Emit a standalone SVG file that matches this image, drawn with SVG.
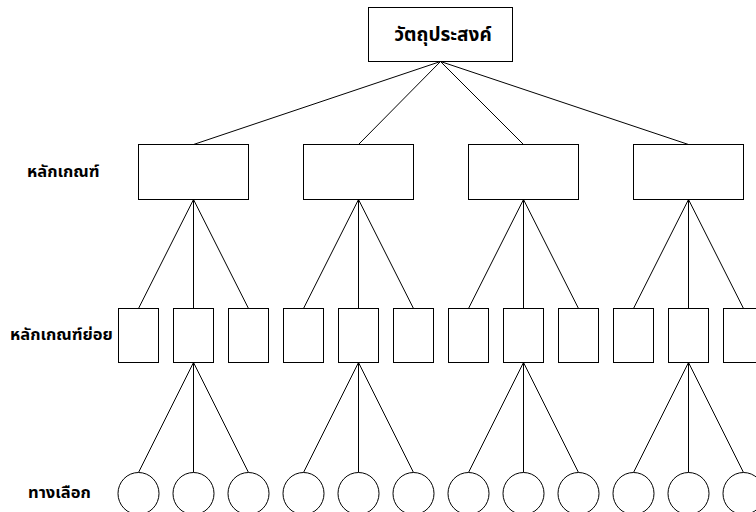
<svg xmlns="http://www.w3.org/2000/svg" width="756" height="512" viewBox="0 0 756 512">
<style>
.box{fill:#fff;stroke:#000;stroke-width:1}
.ln{stroke:#000;stroke-width:1;fill:none}
.t{font-family:"Noto Sans Thai","Leelawadee UI",Tahoma,"Noto Sans",sans-serif;fill:#000;font-weight:bold}
.lab{font-size:16.5px}
.title{font-size:19px}
</style>
<rect width="756" height="512" fill="#fff"/>
<g id="connectors">
<path class="ln" d="M440.5 61.5L193.5 144.5M440.5 61.5L358.5 144.5M440.5 61.5L523.5 144.5M440.5 61.5L688.5 144.5"/>
<path class="ln" d="M193.5 199.5L138.5 308.5M193.5 199.5L193.5 308.5M193.5 199.5L248.5 308.5"/>
<path class="ln" d="M358.5 199.5L303.5 308.5M358.5 199.5L358.5 308.5M358.5 199.5L413.5 308.5"/>
<path class="ln" d="M523.5 199.5L468.5 308.5M523.5 199.5L523.5 308.5M523.5 199.5L578.5 308.5"/>
<path class="ln" d="M688.5 199.5L633.5 308.5M688.5 199.5L688.5 308.5M688.5 199.5L743.5 308.5"/>
<path class="ln" d="M193.5 362.5L138.5 472.5M193.5 362.5L193.5 472.5M193.5 362.5L248.5 472.5"/>
<path class="ln" d="M358.5 362.5L303.5 472.5M358.5 362.5L358.5 472.5M358.5 362.5L413.5 472.5"/>
<path class="ln" d="M523.5 362.5L468.5 472.5M523.5 362.5L523.5 472.5M523.5 362.5L578.5 472.5"/>
<path class="ln" d="M688.5 362.5L633.5 472.5M688.5 362.5L688.5 472.5M688.5 362.5L743.5 472.5"/>
</g>
<g id="goal"><rect class="box" x="368.5" y="7.5" width="144" height="54"/><text class="t title" x="443" y="41" text-anchor="middle">วัตถุประสงค์</text></g>
<g id="label-criteria"><text class="t lab" x="27" y="177">หลักเกณฑ์</text></g>
<g id="label-subcriteria"><text class="t lab" x="10" y="340">หลักเกณฑ์ย่อย</text></g>
<g id="label-alternatives"><text class="t lab" x="28" y="498">ทางเลือก</text></g>
<g id="c1"><rect class="box" x="138.5" y="144.5" width="110" height="55"/></g>
<g id="c2"><rect class="box" x="303.5" y="144.5" width="110" height="55"/></g>
<g id="c3"><rect class="box" x="468.5" y="144.5" width="110" height="55"/></g>
<g id="c4"><rect class="box" x="633.5" y="144.5" width="110" height="55"/></g>
<g id="s1a"><rect class="box" x="118.5" y="308.5" width="40" height="54"/></g>
<g id="s1b"><rect class="box" x="173.5" y="308.5" width="40" height="54"/></g>
<g id="s1c"><rect class="box" x="228.5" y="308.5" width="40" height="54"/></g>
<g id="s2a"><rect class="box" x="283.5" y="308.5" width="40" height="54"/></g>
<g id="s2b"><rect class="box" x="338.5" y="308.5" width="40" height="54"/></g>
<g id="s2c"><rect class="box" x="393.5" y="308.5" width="40" height="54"/></g>
<g id="s3a"><rect class="box" x="448.5" y="308.5" width="40" height="54"/></g>
<g id="s3b"><rect class="box" x="503.5" y="308.5" width="40" height="54"/></g>
<g id="s3c"><rect class="box" x="558.5" y="308.5" width="40" height="54"/></g>
<g id="s4a"><rect class="box" x="613.5" y="308.5" width="40" height="54"/></g>
<g id="s4b"><rect class="box" x="668.5" y="308.5" width="40" height="54"/></g>
<g id="s4c"><rect class="box" x="723.5" y="308.5" width="40" height="54"/></g>
<g id="a1"><ellipse class="box" cx="138.5" cy="493.5" rx="20.5" ry="21"/></g>
<g id="a2"><ellipse class="box" cx="193.5" cy="493.5" rx="20.5" ry="21"/></g>
<g id="a3"><ellipse class="box" cx="248.5" cy="493.5" rx="20.5" ry="21"/></g>
<g id="a4"><ellipse class="box" cx="303.5" cy="493.5" rx="20.5" ry="21"/></g>
<g id="a5"><ellipse class="box" cx="358.5" cy="493.5" rx="20.5" ry="21"/></g>
<g id="a6"><ellipse class="box" cx="413.5" cy="493.5" rx="20.5" ry="21"/></g>
<g id="a7"><ellipse class="box" cx="468.5" cy="493.5" rx="20.5" ry="21"/></g>
<g id="a8"><ellipse class="box" cx="523.5" cy="493.5" rx="20.5" ry="21"/></g>
<g id="a9"><ellipse class="box" cx="578.5" cy="493.5" rx="20.5" ry="21"/></g>
<g id="a10"><ellipse class="box" cx="633.5" cy="493.5" rx="20.5" ry="21"/></g>
<g id="a11"><ellipse class="box" cx="688.5" cy="493.5" rx="20.5" ry="21"/></g>
<g id="a12"><ellipse class="box" cx="743.5" cy="493.5" rx="20.5" ry="21"/></g>
</svg>
